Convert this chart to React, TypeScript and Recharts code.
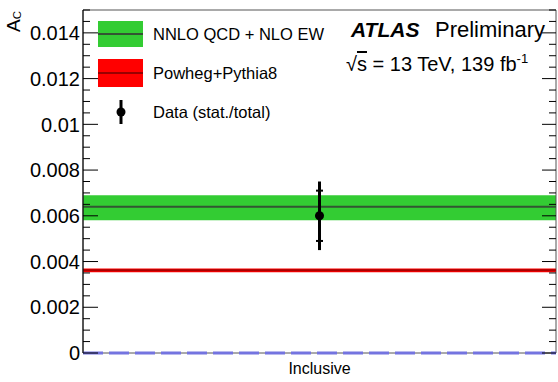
import React from 'react';
import {
  ComposedChart,
  XAxis,
  YAxis,
  Scatter,
  ErrorBar,
  ReferenceArea,
  ReferenceLine,
} from 'recharts';

const categories = ['Inclusive'];
const dataValues = [0.006];
const statErrors = [0.0011];
const totalErrors = [0.0015];

const predictionNames = ['NNLO QCD + NLO EW', 'Powheg+Pythia8'];
const predictionCentral = [0.0064, 0.00362];
const predictionLow = [0.0058, 0.00353];
const predictionHigh = [0.0069, 0.0037];
const predictionFill = ['#33cc33', '#ff0000'];
const predictionLine = ['#335533', '#aa0000'];

const majorTicks = [0, 0.002, 0.004, 0.006, 0.008, 0.01, 0.012, 0.014];
const yTicks = majorTicks.flatMap((t) => [t, t + 0.0005, t + 0.001, t + 0.0015]);

const FONT = '"Liberation Sans", Arial, Helvetica, sans-serif';
const W = 558;
const H = 382;
const AXIS_X = 83;
const PLOT_RIGHT = 556;

const isMajor = (v: number) => majorTicks.some((m) => Math.abs(m - v) < 1e-9);
const fmt = (v: number) => String(Number(v.toFixed(4)));

const YTick = (props: any) => {
  const { x, y, payload } = props;
  const v = payload.value;
  const major = isMajor(v);
  return (
    <g>
      <line x1={AXIS_X} x2={AXIS_X + (major ? 15 : 7)} y1={y} y2={y} stroke="#000" />
      <line x1={PLOT_RIGHT} x2={PLOT_RIGHT - (major ? 14 : 7)} y1={y} y2={y} stroke="#000" />
      {major && (
        <text x={x} y={y} dy="0.36em" textAnchor="end" fontSize={20} fontFamily={FONT} fill="#000">
          {fmt(v)}
        </text>
      )}
    </g>
  );
};

const points = categories.map((c, i) => ({
  name: c,
  x: i + 0.5,
  y: dataValues[i],
  stat: statErrors[i],
  total: totalErrors[i],
}));

const Overlay = () => (
  <svg
    width={W}
    height={H}
    style={{ position: 'absolute', left: 0, top: 0, pointerEvents: 'none' }}
    fontFamily={FONT}
  >
    {/* y title */}
    <text transform="translate(20,32) rotate(-90)" fontSize={19} fill="#000">
      A<tspan fontSize={11.5} dy={1}>C</tspan>
    </text>

    {/* legend */}
    <rect x={98} y={21} width={45} height={26} fill={predictionFill[0]} />
    <line x1={98} x2={143} y1={34} y2={34} stroke={predictionLine[0]} strokeWidth={2} />
    <text x={153} y={40} fontSize={16.5} fill="#000">{predictionNames[0]}</text>

    <rect x={98} y={59} width={45} height={28} fill={predictionFill[1]} />
    <line x1={98} x2={143} y1={73} y2={73} stroke="#990000" strokeWidth={2} />
    <text x={153} y={79} fontSize={16.5} fill="#000">{predictionNames[1]}</text>

    <line x1={121} x2={121} y1={100} y2={124} stroke="#000" strokeWidth={3} />
    <circle cx={121} cy={112} r={4.5} fill="#000" />
    <text x={153} y={118} fontSize={16.5} fill="#000">Data (stat./total)</text>

    {/* labels */}
    <text x={351} y={37} fontSize={21} fill="#000">
      <tspan fontWeight="bold" fontStyle="italic">ATLAS</tspan>
    </text>
    <text x={435} y={37} fontSize={22} fill="#000">Preliminary</text>
    <text x={346} y={71} fontSize={20} fill="#000">
      √<tspan textDecoration="overline">s</tspan> = 13 TeV, 139 fb
      <tspan fontSize={13} dy={-8}>-1</tspan>
    </text>
  </svg>
);

export default function App() {
  return (
    <div style={{ position: 'absolute', left: 0, top: 0, width: W, height: H, background: '#fff' }}>
      <ComposedChart
        width={W}
        height={H}
        data={points}
        margin={{ top: 10, right: 2, bottom: 0, left: 0 }}
      >
        <XAxis
          dataKey="x"
          type="number"
          domain={[0, categories.length]}
          ticks={points.map((p) => p.x)}
          tickFormatter={(v: number) => categories[Math.floor(v)]}
          tickLine={false}
          tickSize={0}
          tickMargin={10}
          height={29}
          axisLine={false}
          tick={{ fontSize: 16, fontFamily: FONT, fill: '#000' }}
        />
        <YAxis
          type="number"
          domain={[0, 0.015]}
          ticks={yTicks}
          interval={0}
          allowDataOverflow
          width={AXIS_X}
          tickLine={false}
          tickSize={0}
          tickMargin={3}
          axisLine={{ stroke: '#000' }}
          tick={<YTick />}
        />
        {predictionNames.map((n, i) => (
          <ReferenceArea
            key={n + '-band'}
            y1={predictionLow[i]}
            y2={predictionHigh[i]}
            fill={predictionFill[i]}
            fillOpacity={1}
            stroke="none"
          />
        ))}
        {predictionNames.map((n, i) => (
          <ReferenceLine
            key={n + '-line'}
            y={predictionCentral[i]}
            stroke={predictionLine[i]}
            strokeWidth={2}
          />
        ))}
        <ReferenceArea
          x1={0}
          x2={categories.length}
          y1={0}
          y2={0.015}
          fill="none"
          stroke="#555"
          strokeWidth={1}
        />
        <ReferenceLine y={0} stroke="#7474e0" strokeWidth={3} strokeDasharray="20 6" />
        <Scatter dataKey="y" fill="#000" isAnimationActive={false}>
          <ErrorBar dataKey="total" direction="y" width={0} stroke="#000" strokeWidth={3} />
          <ErrorBar dataKey="stat" direction="y" width={3.5} stroke="#000" strokeWidth={2} />
        </Scatter>
      </ComposedChart>
      <Overlay />
    </div>
  );
}
